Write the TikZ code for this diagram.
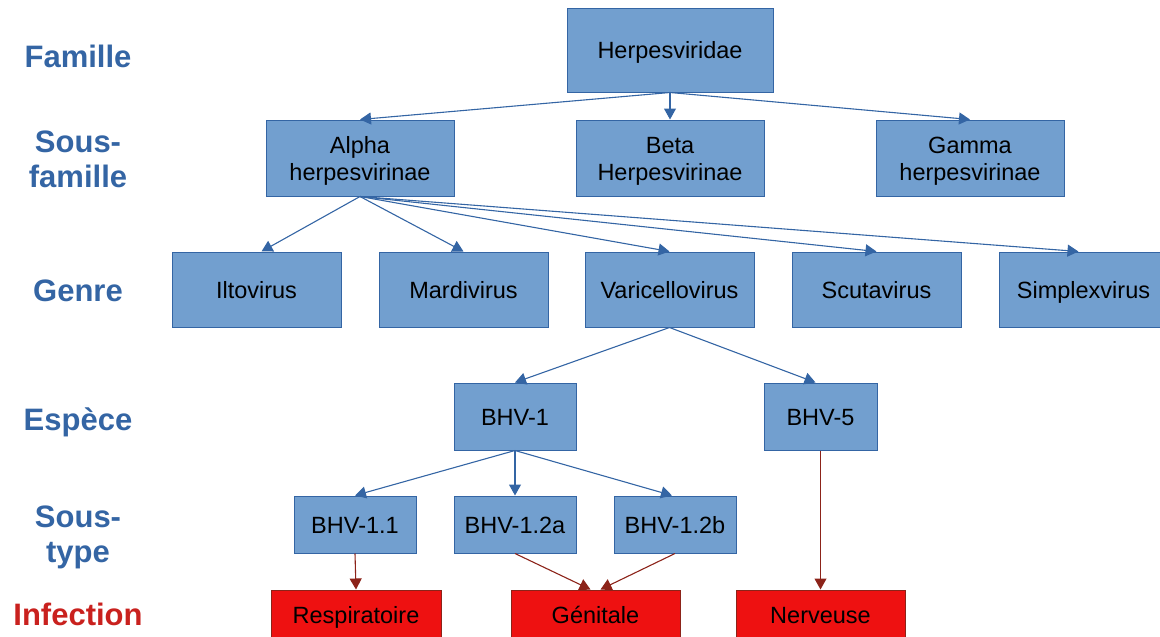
\documentclass[tikz,border=0pt]{standalone}
\usepackage{fontspec}
\setmainfont{Liberation Sans}
\usepackage{tikz}
\usetikzlibrary{arrows.meta}

\definecolor{boxblue}{RGB}{114,159,207}
\definecolor{lineblue}{RGB}{52,101,164}
\definecolor{boxred}{RGB}{238,17,17}
\definecolor{linered}{RGB}{140,35,25}
\definecolor{labred}{RGB}{201,33,30}

\begin{document}
\begin{tikzpicture}[x=1pt,y=-1pt,
  taxon/.style={draw=lineblue,fill=boxblue,line width=1pt,inner sep=0pt,align=center,
    font=\fontsize{23.5}{27}\selectfont},
  oneline/.style={text height=17pt,text depth=0pt},
  twoline/.style={text height=45pt,text depth=0pt},
  infect/.style={draw=linered,fill=boxred,line width=1pt,inner sep=0pt,align=center,
    text height=17pt,text depth=0pt,font=\fontsize{23.5}{27}\selectfont},
  rank/.style={align=center,text=lineblue,font=\fontsize{31}{35}\selectfont\bfseries},
  barrow/.style={draw=lineblue,line width=1.1pt,-{Triangle[width=12pt,length=11pt]}},
  rarrow/.style={draw=linered,line width=1.1pt,-{Triangle[width=12pt,length=11pt]}}]
\useasboundingbox (0,0) rectangle (1160,637);

\node[rank] (lfam) at (78,56) {Famille};
\node[rank] (lsfam) at (78,159) {Sous-\\famille};
\node[rank] (lgen) at (78,291) {Genre};
\node[rank] (lesp) at (78,422) {Espèce};
\node[rank] (ltyp) at (78,537) {Sous-\\type};
\node[rank,text=labred] (linf) at (78,614) {Infection};

\node[taxon,oneline,minimum width=206pt,minimum height=84pt] (herpes) at (670,50) {Herpesviridae};

\node[taxon,twoline,minimum width=188pt,minimum height=76pt] (alpha) at (360,158) {Alpha\\herpesvirinae};
\node[taxon,twoline,minimum width=188pt,minimum height=76pt] (beta) at (670,158) {Beta\\Herpesvirinae};
\node[taxon,twoline,minimum width=188pt,minimum height=76pt] (gamma) at (970,158) {Gamma\\herpesvirinae};

\node[taxon,oneline,minimum width=169pt,minimum height=75pt] (ilto) at (256.5,289.5) {Iltovirus};
\node[taxon,oneline,minimum width=169pt,minimum height=75pt] (mardi) at (463.5,289.5) {Mardivirus};
\node[taxon,oneline,minimum width=169pt,minimum height=75pt] (vari) at (669.5,289.5) {Varicellovirus};
\node[taxon,oneline,minimum width=169pt,minimum height=75pt] (scuta) at (876.5,289.5) {Scutavirus};
\node[taxon,oneline,minimum width=169pt,minimum height=75pt] (simplex) at (1083.5,289.5) {Simplexvirus};

\node[taxon,oneline,minimum width=122pt,minimum height=67pt] (bhv1) at (515,416.5) {BHV-1};
\node[taxon,oneline,minimum width=113pt,minimum height=67pt] (bhv5) at (820.5,416.5) {BHV-5};

\node[taxon,oneline,minimum width=122pt,minimum height=57pt] (bhva) at (355,524.5) {BHV-1.1};
\node[taxon,oneline,minimum width=122pt,minimum height=57pt] (bhvb) at (515,524.5) {BHV-1.2a};
\node[taxon,oneline,minimum width=122pt,minimum height=57pt] (bhvc) at (675,524.5) {BHV-1.2b};

\node[infect,minimum width=170pt,minimum height=50pt] (resp) at (356,615) {Respiratoire};
\node[infect,minimum width=169pt,minimum height=50pt] (geni) at (595.5,615) {Génitale};
\node[infect,minimum width=169pt,minimum height=50pt] (nerv) at (820.5,615) {Nerveuse};

\draw[barrow] (herpes.south) -- (alpha.north);
\draw[barrow] (herpes.south) -- (beta.north);
\draw[barrow] (herpes.south) -- (gamma.north);
\draw[barrow] (alpha.south) -- ([xshift=5pt]ilto.north);
\draw[barrow] (alpha.south) -- (mardi.north);
\draw[barrow] (alpha.south) -- (vari.north);
\draw[barrow] (alpha.south) -- (scuta.north);
\draw[barrow] (alpha.south) -- ([xshift=-5pt]simplex.north);
\draw[barrow] (vari.south) -- (bhv1.north);
\draw[barrow] (vari.south) -- ([xshift=-5pt]bhv5.north);
\draw[barrow] (bhv1.south) -- (bhva.north);
\draw[barrow] (bhv1.south) -- (bhvb.north);
\draw[barrow] (bhv1.south) -- ([xshift=-3pt]bhvc.north);
\draw[rarrow] (bhva.south) -- (resp.north);
\draw[rarrow] (bhvb.south) -- ([xshift=-5pt]geni.north);
\draw[rarrow] (bhvc.south) -- ([xshift=5pt]geni.north);
\draw[rarrow] (bhv5.south) -- (nerv.north);
\end{tikzpicture}
\end{document}
